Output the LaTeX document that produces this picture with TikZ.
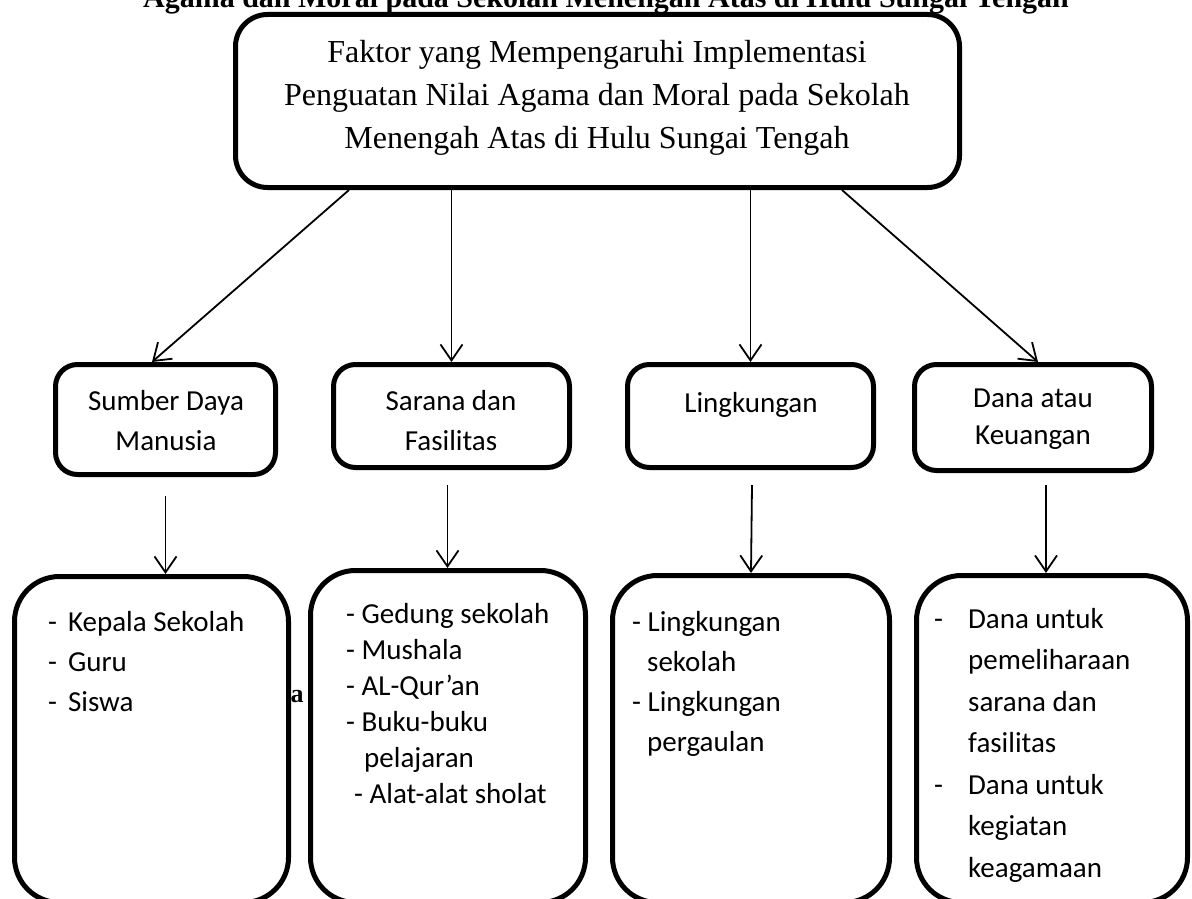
\documentclass[tikz,border=0pt]{standalone}
\usepackage{fontspec}
\setmainfont{Liberation Serif}
\newfontfamily\calibri{Carlito}
\usetikzlibrary{arrows.meta}

\begin{document}
\begin{tikzpicture}[x=1pt, y=-1pt,
  kotak/.style={draw=black, line width=5pt, fill=white, inner sep=0pt},
  judul/.style={font=\bfseries\fontsize{30}{34}\selectfont, inner sep=0pt},
  pokok/.style={font=\fontsize{32}{43}\selectfont, align=center, inner sep=0pt},
  isi/.style={font=\calibri\fontsize{29}{40}\selectfont, align=center, inner sep=0pt},
  daftar/.style={font=\calibri\fontsize{29}{40}\selectfont, align=left, inner sep=0pt},
  panah/.style={-{Straight Barb[length=16pt,width=22pt]}, line width=1.8pt}
]
\clip (0,0) rectangle (1192,899);

% judul yang terpotong di atas
\node[judul, anchor=base] (judul) at (606,8) {Agama dan Moral pada Sekolah Menengah Atas di Hulu Sungai Tengah};

% kotak utama
\node[kotak, rounded corners=32pt, minimum width=724pt, minimum height=173pt] (faktor) at (597.5,101) {};
\node[pokok] (faktorteks) at (597,98) {Faktor yang Mempengaruhi Implementasi\\Penguatan Nilai Agama dan Moral pada Sekolah\\Menengah Atas di Hulu Sungai Tengah};

% empat faktor
\node[kotak, rounded corners=22pt, minimum width=220pt, minimum height=110pt] (sdm) at (165.5,419.5) {};
\node[kotak, rounded corners=22pt, minimum width=236pt, minimum height=103pt] (sarana) at (451.5,416) {};
\node[kotak, rounded corners=22pt, minimum width=246pt, minimum height=103pt] (lingkungan) at (750.5,416) {};
\node[kotak, rounded corners=22pt, minimum width=237pt, minimum height=106pt] (dana) at (1033,417.5) {};
\node[isi] (sdmteks) at (166,421) {Sumber Daya\\Manusia};
\node[isi] (saranateks) at (451,421) {Sarana dan\\Fasilitas};
\node[isi] (lingkunganteks) at (751,405) {Lingkungan};
\node[isi, font=\calibri\fontsize{29}{37}\selectfont] (danateks) at (1033,419) {Dana atau\\Keuangan};

% rincian
\node[kotak, rounded corners=45pt, minimum width=274pt, minimum height=326pt] (rincisdm) at (151.5,739.5) {};
\node[kotak, rounded corners=45pt, minimum width=275pt, minimum height=332pt] (rincisarana) at (448,736.5) {};
\node[kotak, rounded corners=45pt, minimum width=277pt, minimum height=327pt] (rincilingkungan) at (751,739) {};
\node[kotak, rounded corners=45pt, minimum width=271pt, minimum height=327pt] (rincidana) at (1052,739) {};

\node[daftar, anchor=north west] (teks1) at (48,611) {-\hspace{11pt}Kepala Sekolah\\-\hspace{11pt}Guru\\-\hspace{11pt}Siswa};
\node[daftar, anchor=north west, font=\calibri\fontsize{29}{36}\selectfont] (teks2) at (346,603) {- Gedung sekolah\\- Mushala\\- AL-Qur’an\\- Buku-buku\\\hspace{18pt}pelajaran\\\hspace{8pt}- Alat-alat sholat};
\node[daftar, anchor=north west] (teks3) at (632,611) {- Lingkungan\\\hspace{15pt}sekolah\\- Lingkungan\\\hspace{15pt}pergaulan};
\node[daftar, anchor=north west, font=\calibri\fontsize{29}{41.5}\selectfont] (teks4) at (934,608) {-\hspace{25pt}Dana untuk\\\hspace{34pt}pemeliharaan\\\hspace{34pt}sarana dan\\\hspace{34pt}fasilitas\\-\hspace{25pt}Dana untuk\\\hspace{34pt}kegiatan\\\hspace{34pt}keagamaan};

\node[font=\bfseries\fontsize{26}{30}\selectfont, inner sep=0pt] (sisa) at (297,697) {a};

% panah dari kotak utama
\draw [panah] ([xshift=-248.5pt]faktor.south) -- ([xshift=-13.5pt]sdm.north);
\draw [panah] (sarana.north |- faktor.south) -- (sarana.north);
\draw [panah] (lingkungan.north |- faktor.south) -- (lingkungan.north);
\draw [panah] ([xshift=244.5pt]faktor.south) -- ([xshift=5pt]dana.north);

% panah ke rincian
\draw [panah] ([yshift=-19pt]sdm.south) -- (sdm.south |- rincisdm.north);
\draw [panah] ([xshift=-4pt,yshift=-15pt]sarana.south) -- ([xshift=-4pt]sarana.south |- rincisarana.north);
\draw [panah] ([xshift=1.5pt,yshift=-15pt]lingkungan.south) -- (rincilingkungan.north);
\draw [panah] ([xshift=13pt,yshift=-12pt]dana.south) -- ([xshift=-6pt]rincidana.north);
\end{tikzpicture}
\end{document}
